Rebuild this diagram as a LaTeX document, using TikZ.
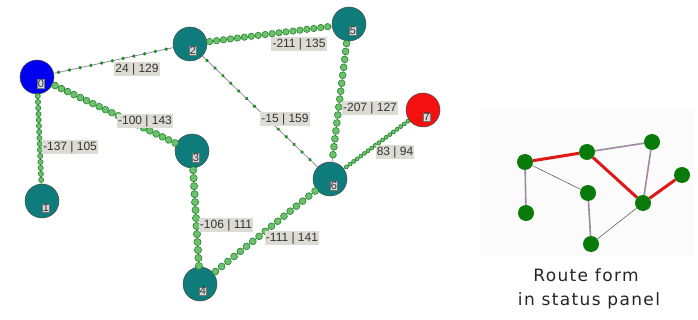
\documentclass[tikz,border=0pt]{standalone}
\usepackage{fontspec}
\setmainfont{Liberation Sans}
\newfontfamily\panelfont[LetterSpace=8]{DejaVu Sans}
\usetikzlibrary{decorations.markings}
\definecolor{tealnode}{HTML}{0E7C7B}
\definecolor{bluenode}{HTML}{0000F0}
\definecolor{rednode}{HTML}{F41010}
\definecolor{linec}{HTML}{9A88A0}
\definecolor{beadfill}{HTML}{6CC26C}
\definecolor{beaddraw}{HTML}{24822A}
\definecolor{dotc}{HTML}{1E8E2A}
\definecolor{labfill}{HTML}{DCDCD4}
\definecolor{smallg}{HTML}{0A7A0A}
\definecolor{routered}{HTML}{E01818}
\definecolor{greyedge}{HTML}{9A8C9C}
\tikzset{
  x=1pt, y=-1pt,
  gnode/.style={circle, draw=black!70, line width=0.5pt, minimum size=34pt, inner sep=0pt, fill=tealnode},
  idlab/.style={draw=black!55, fill=gray!30, line width=0.4pt, inner sep=0.5pt, font=\fontsize{11}{11}\selectfont, text=black!80},
  elab/.style={fill=labfill, inner sep=1.2pt, font=\fontsize{12}{12}\selectfont, text=black!80},
  beads/.style n args={2}{draw=linec, line width=0.6pt, postaction={decorate, decoration={markings, mark=between positions 0.02 and 1 step #2 with {\draw[beaddraw, line width=0.6pt, fill=beadfill] (0,0) circle (#1);}}}},
  dots/.style={draw=linec, line width=0.8pt, postaction={decorate, decoration={markings, mark=between positions 0.04 and 1 step 11pt with {\fill[dotc] (0,0) circle (1.9pt);}}}},
  snode/.style={circle, fill=smallg, minimum size=16pt, inner sep=0pt},
  redge/.style={draw=routered, line width=3pt},
  gedge/.style={draw=greyedge, line width=1.6pt},
  tedge/.style={draw=black!70, line width=0.5pt},
  ptext/.style={font=\panelfont\fontsize{17}{17}\selectfont, text=black!85},
}
\begin{document}
\begin{tikzpicture}
\useasboundingbox (0,0) rectangle (698,320);
\fill[white] (0,0) rectangle (698,320);
\fill[gray!3] (480,108) rectangle (694,256);
% main graph nodes
\node[gnode, fill=bluenode] (n0) at (37,77) {};
\node[gnode] (n1) at (42,201) {};
\node[gnode] (n2) at (190,44) {};
\node[gnode] (n3) at (192,151) {};
\node[gnode] (n4) at (200,284) {};
\node[gnode] (n5) at (349,24) {};
\node[gnode] (n6) at (330,179) {};
\node[gnode, fill=rednode] (n7) at (423,110) {};
% edges
\draw[dots] (n0) -- (n2);
\draw[beads={3.4pt}{7pt}] (n0) -- (n3);
\draw[beads={2.6pt}{6pt}] (n0) -- (n1);
\draw[beads={3.2pt}{7pt}] (n2) -- (n5);
\draw[dots] (n2) -- (n6);
\draw[beads={3.4pt}{8pt}] (n5) -- (n6);
\draw[beads={2pt}{4.5pt}] (n7) -- (n6);
\draw[beads={3.6pt}{8pt}] (n3) -- (n4);
\draw[beads={3.4pt}{8pt}] (n4) -- (n6);
% id labels
\node[idlab] (l0) at (41,84) {0};
\node[idlab] (l1) at (46,208) {1};
\node[idlab] (l2) at (193,51) {2};
\node[idlab] (l3) at (196,158) {3};
\node[idlab] (l4) at (203,291) {4};
\node[idlab] (l5) at (353,31) {5};
\node[idlab] (l6) at (334,186) {6};
\node[idlab] (l7) at (427,117) {7};
% edge labels
\node[elab] (e02) at (137,69) {24 | 129};
\node[elab] (e03) at (145,121) {-100 | 143};
\node[elab] (e01) at (70,147) {-137 | 105};
\node[elab] (e25) at (299,44) {-211 | 135};
\node[elab] (e26) at (285,119) {-15 | 159};
\node[elab] (e56) at (370,108) {-207 | 127};
\node[elab] (e76) at (395,152) {83 | 94};
\node[elab] (e34) at (226,225) {-106 | 111};
\node[elab] (e46) at (292,238) {-111 | 141};
% right panel
\node[snode] (a) at (525,162) {};
\node[snode] (b) at (587,152) {};
\node[snode] (c) at (652,142) {};
\node[snode] (d) at (682,175) {};
\node[snode] (e) at (588,193) {};
\node[snode] (f) at (643,203) {};
\node[snode] (g) at (526,213) {};
\node[snode] (h) at (591,244) {};
\draw[gedge] (b) -- (c);
\draw[gedge] (c) -- (f);
\draw[gedge] (a) -- (g);
\draw[gedge] (e) -- (h);
\draw[tedge] (a) -- (e);
\draw[tedge] (h) -- (f);
\draw[redge] (a) -- (b);
\draw[redge] (b) -- (f);
\draw[redge] (f) -- (d);
\node[ptext] (t1) at (586,275) {Route form};
\node[ptext] (t2) at (589,301) {in status panel};
\end{tikzpicture}
\end{document}
